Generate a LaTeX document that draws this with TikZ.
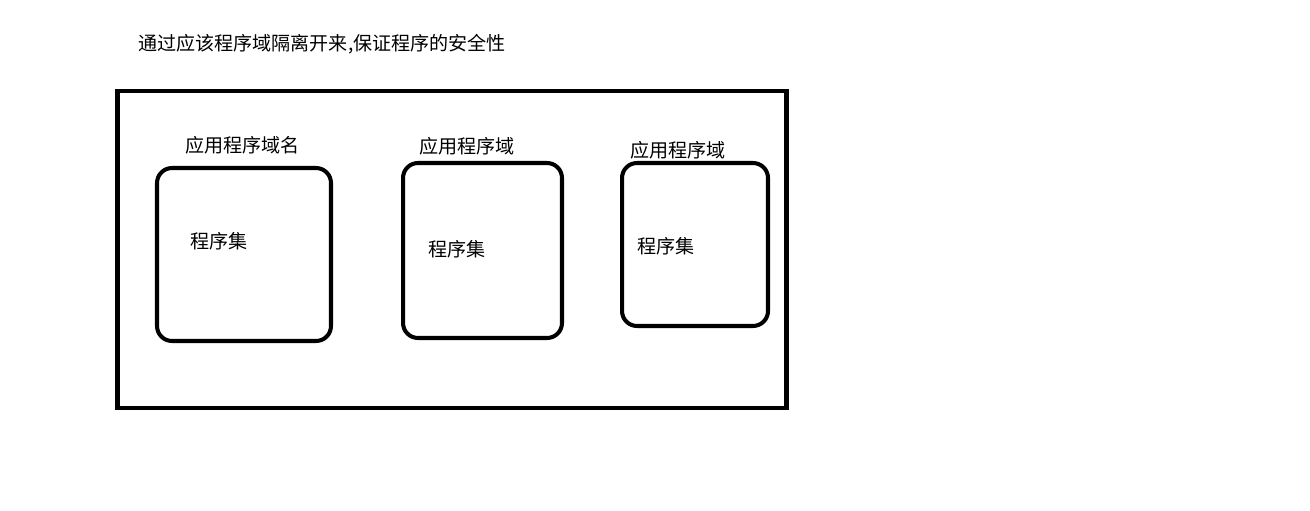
\documentclass[tikz,border=0pt]{standalone}
\usepackage{fontspec}
\setmainfont{Noto Sans CJK SC}
\begin{document}
\begin{tikzpicture}[x=0.02cm,y=-0.02cm,font=\fontsize{10.85pt}{12pt}\selectfont]
    \tikzset{
      appdomain/.style={draw, line width=2.8pt},
      asmbox/.style={draw, line width=2.3pt, rounded corners=0.3cm},
      txt/.style={anchor=west, inner sep=0pt}
    }
    \useasboundingbox (0,0) rectangle (1310,510);
    \node [txt] (title) at (138,44) {通过应该程序域隔离开来,保证程序的安全性};
    \node [appdomain, minimum width=13.4cm, minimum height=6.34cm] (proc) at (452,249.5) {};
    \node [asmbox, minimum width=3.48cm, minimum height=3.46cm] (A) at (244,254.5) {};
    \node [asmbox, minimum width=3.18cm, minimum height=3.5cm] (B) at (482.5,250.5) {};
    \node [asmbox, minimum width=2.92cm, minimum height=3.26cm] (C) at (695,244.5) {};
    \node [txt] (Aname) at (185,145) {应用程序域名};
    \node [txt] (Bname) at (419,146) {应用程序域};
    \node [txt] (Cname) at (630,150) {应用程序域};
    \node [txt] (Aasm) at (190,241) {程序集};
    \node [txt] (Basm) at (428,249) {程序集};
    \node [txt] (Casm) at (637,246) {程序集};
\end{tikzpicture}
\end{document}
